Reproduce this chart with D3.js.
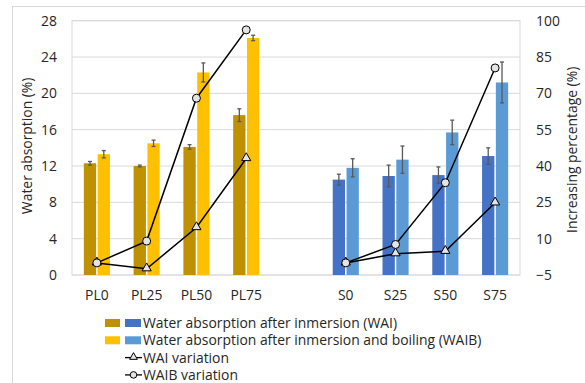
<!DOCTYPE html>
<html>
<head>
<meta charset="utf-8">
<script src="https://cdn.jsdelivr.net/npm/d3@7"></script>
<style>
  html, body { margin: 0; padding: 0; background: #fff; }
  svg { display: block; font-family: "Open Sans", "Liberation Sans", sans-serif; }
</style>
</head>
<body>
<svg id="chart" width="585" height="383"></svg>
<script>
// Sample groups: PL series, an empty spacer slot, then S series
const plCategories = ["PL0", "PL25", "PL50", "PL75"];
const sCategories = ["S0", "S25", "S50", "S75"];
const spacer = "gap";
const categories = [...plCategories, spacer, ...sCategories];

// Water absorption (%) and standard deviations, PL then S
const wai      = [12.3, 12.0, 14.1, 17.6, 10.5, 10.9, 11.0, 13.1];
const waiErr   = [0.2, 0.1, 0.25, 0.7, 0.6, 1.2, 0.9, 0.9];
const waib     = [13.3, 14.5, 22.3, 26.1, 11.8, 12.7, 15.7, 21.2];
const waibErr  = [0.4, 0.35, 1.05, 0.3, 1.0, 1.5, 1.35, 2.25];

// Increase relative to the reference sample of each group (%)
const waiVar  = [0, -2.4, 14.6, 43.1, 0, 3.8, 4.8, 24.8];
const waibVar = [0, 9.0, 68.0, 96.2, 0, 7.6, 33.1, 80.5];

const leftTicks = [0, 4, 8, 12, 16, 20, 24, 28];
const rightTicks = [-5, 10, 25, 40, 55, 70, 85, 100];

const colors = {
  plWai: "#BF9000", plWaib: "#FFC000",
  sWai: "#4472C4", sWaib: "#5B9BD5"
};

const fontFamily = "'Open Sans', 'Liberation Sans', sans-serif";
const fontSize = "13.9px";
const textColor = "#262626";

const svg = d3.select("#chart");
const plot = { left: 72, right: 520, top: 20.7, bottom: 275 };

// Outer chart frame
svg.append("rect")
  .attr("x", 12.5).attr("y", 6.5)
  .attr("width", 600).attr("height", 400)
  .attr("fill", "none").attr("stroke", "#d9d9d9").attr("stroke-width", 1);

const x = d3.scaleBand().domain(categories).range([plot.left, plot.right]).padding(0);
const yL = d3.scaleLinear().domain([0, 28]).range([plot.bottom, plot.top]);
const yR = d3.scaleLinear().domain([-5, 100]).range([plot.bottom, plot.top]);

// Gridlines
svg.append("g")
  .selectAll("line").data(leftTicks).join("line")
  .attr("x1", plot.left).attr("x2", plot.right)
  .attr("y1", d => yL(d)).attr("y2", d => yL(d))
  .attr("stroke", "#d9d9d9").attr("stroke-width", 1);

// Plot area border
svg.append("rect")
  .attr("x", plot.left).attr("y", plot.top)
  .attr("width", plot.right - plot.left).attr("height", plot.bottom - plot.top)
  .attr("fill", "none").attr("stroke", "#d9d9d9").attr("stroke-width", 1);

// Axes
const leftAxis = svg.append("g")
  .attr("transform", `translate(${plot.left - 12},0)`)
  .call(d3.axisLeft(yL).tickValues(leftTicks).tickSize(0).tickPadding(3));
const rightAxis = svg.append("g")
  .attr("transform", `translate(${plot.right + 13},0)`)
  .call(d3.axisRight(yR).tickValues(rightTicks).tickSize(0).tickPadding(3));
const bottomAxis = svg.append("g")
  .attr("transform", `translate(0,${plot.bottom + 12})`)
  .call(d3.axisBottom(x).tickSize(0).tickPadding(3)
    .tickFormat(d => d === spacer ? "" : d));
[leftAxis, rightAxis, bottomAxis].forEach(g => {
  g.select(".domain").remove();
  g.selectAll("text").attr("font-size", fontSize).attr("fill", textColor)
    .style("font-family", fontFamily);
});

// Axis titles
svg.append("text")
  .attr("transform", `translate(32,${(plot.top + plot.bottom) / 2 - 2}) rotate(-90)`)
  .attr("text-anchor", "middle").attr("font-size", fontSize).attr("fill", textColor)
  .text("Water absorption (%)");
svg.append("text")
  .attr("transform", `translate(577,${(plot.top + plot.bottom) / 2 + 2}) rotate(-90)`)
  .attr("text-anchor", "middle").attr("font-size", fontSize).attr("fill", textColor)
  .text("Increasing percentage (%)");

// Bars
const barW = 12.3, barGap = 1.5;
const rows = [...plCategories, ...sCategories].map((c, i) => ({
  cat: c, group: i < 4 ? "pl" : "s",
  wai: wai[i], waiErr: waiErr[i], waib: waib[i], waibErr: waibErr[i],
  waiVar: waiVar[i], waibVar: waibVar[i]
}));
const cx = d => x(d.cat) + x.bandwidth() / 2;

const bars = svg.append("g");
bars.selectAll("rect.wai").data(rows).join("rect")
  .attr("x", d => cx(d) - barGap / 2 - barW)
  .attr("y", d => yL(d.wai))
  .attr("width", barW).attr("height", d => yL(0) - yL(d.wai))
  .attr("fill", d => d.group === "pl" ? colors.plWai : colors.sWai);
bars.selectAll("rect.waib").data(rows).join("rect")
  .attr("x", d => cx(d) + barGap / 2)
  .attr("y", d => yL(d.waib))
  .attr("width", barW).attr("height", d => yL(0) - yL(d.waib))
  .attr("fill", d => d.group === "pl" ? colors.plWaib : colors.sWaib);

// Error bars
const errs = [];
rows.forEach(d => {
  errs.push({ x: cx(d) - barGap / 2 - barW / 2, v: d.wai, e: d.waiErr });
  errs.push({ x: cx(d) + barGap / 2 + barW / 2, v: d.waib, e: d.waibErr });
});
const eg = svg.append("g").attr("stroke", "#595959").attr("stroke-width", 1.3);
eg.selectAll("line.v").data(errs).join("line")
  .attr("x1", d => d.x).attr("x2", d => d.x)
  .attr("y1", d => yL(d.v - d.e)).attr("y2", d => yL(d.v + d.e));
eg.selectAll("line.t").data(errs).join("line")
  .attr("x1", d => d.x - 2).attr("x2", d => d.x + 2)
  .attr("y1", d => yL(d.v + d.e)).attr("y2", d => yL(d.v + d.e));
eg.selectAll("line.b").data(errs).join("line")
  .attr("x1", d => d.x - 2).attr("x2", d => d.x + 2)
  .attr("y1", d => yL(d.v - d.e)).attr("y2", d => yL(d.v - d.e));

// Variation lines, drawn separately for each group
const markerFill = "#e4e4e4";
const lineGen = key => d3.line().x(cx).y(d => yR(d[key]));
const lines = svg.append("g");
["pl", "s"].forEach(g => {
  const sub = rows.filter(d => d.group === g);
  lines.append("path").datum(sub).attr("d", lineGen("waiVar"))
    .attr("fill", "none").attr("stroke", "#000").attr("stroke-width", 1.5);
  lines.append("path").datum(sub).attr("d", lineGen("waibVar"))
    .attr("fill", "none").attr("stroke", "#000").attr("stroke-width", 1.5);
});
const tri = d3.symbol().type(d3.symbolTriangle).size(36);
lines.selectAll("path.tri").data(rows).join("path")
  .attr("d", tri)
  .attr("transform", d => `translate(${cx(d)},${yR(d.waiVar) - 0.5})`)
  .attr("fill", markerFill).attr("stroke", "#000").attr("stroke-width", 1);
lines.selectAll("circle").data(rows).join("circle")
  .attr("cx", cx).attr("cy", d => yR(d.waibVar)).attr("r", 4)
  .attr("fill", markerFill).attr("stroke", "#000").attr("stroke-width", 1);

// Legend
const legend = svg.append("g").attr("font-size", fontSize).attr("fill", textColor);
const legendRows = [
  { label: "Water absorption after inmersion (WAI)", type: "bar", c: [colors.plWai, colors.sWai] },
  { label: "Water absorption after inmersion and boiling (WAIB)", type: "bar", c: [colors.plWaib, colors.sWaib] },
  { label: "WAI variation", type: "tri" },
  { label: "WAIB variation", type: "circle" }
];
legendRows.forEach((r, i) => {
  const yc = 323 + i * 17.3;
  const g = legend.append("g");
  if (r.type === "bar") {
    g.append("rect").attr("x", 105).attr("y", yc - 4).attr("width", 15).attr("height", 8).attr("fill", r.c[0]);
    g.append("rect").attr("x", 125).attr("y", yc - 4).attr("width", 16).attr("height", 8).attr("fill", r.c[1]);
  } else {
    g.append("line").attr("x1", 125).attr("x2", 142).attr("y1", yc).attr("y2", yc)
      .attr("stroke", "#000").attr("stroke-width", 1.3);
    if (r.type === "tri") {
      g.append("path").attr("d", d3.symbol().type(d3.symbolTriangle).size(26))
        .attr("transform", `translate(133.5,${yc - 0.5})`)
        .attr("fill", markerFill).attr("stroke", "#000").attr("stroke-width", 1);
    } else {
      g.append("circle").attr("cx", 133.5).attr("cy", yc).attr("r", 3.3)
        .attr("fill", markerFill).attr("stroke", "#000").attr("stroke-width", 1);
    }
  }
  g.append("text").attr("x", 143).attr("y", yc + 5).text(r.label);
});
</script>
</body>
</html>
